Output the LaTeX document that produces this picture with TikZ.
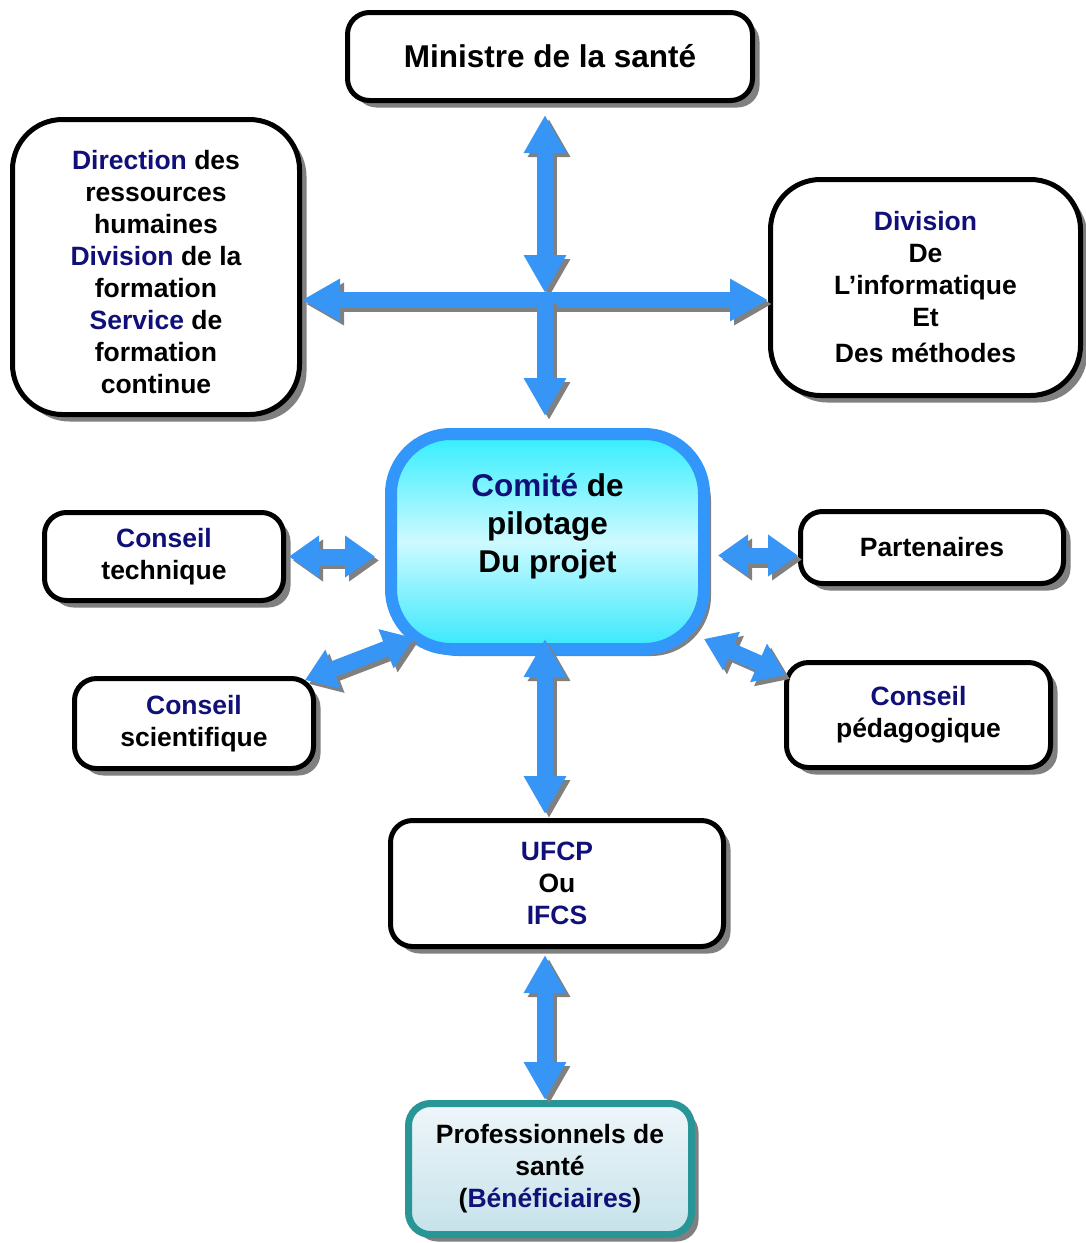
\documentclass[tikz,border=0pt]{standalone}
\usepackage{fontspec}
\setmainfont{Liberation Sans}
\usetikzlibrary{arrows.meta,shadows,calc}

\definecolor{navy}{RGB}{16,16,120}
\definecolor{linkblue}{RGB}{55,150,245}
\definecolor{shadegray}{RGB}{128,128,128}
\definecolor{comiteborder}{RGB}{51,150,250}
\definecolor{tealborder}{RGB}{40,150,150}

\newcommand\hl[1]{\textcolor{navy}{#1}}
% two-way block arrow with an offset grey shadow
\newcommand\linkarrow[3][]{%
  \draw[arrowshade,#1] #2 -- #3;
  \draw[arrowbody,#1] #2 -- #3;}

\tikzset{
  box/.style={draw=black, line width=5pt, rounded corners=22pt, fill=white,
    align=center, inner sep=0pt, font=\bfseries\fontsize{26.5}{32}\selectfont,
    drop shadow={shadow xshift=7pt, shadow yshift=-7pt, fill=shadegray, opacity=1}},
  arrowbody/.style={line width=16pt, draw=linkblue, <->,
    >={Triangle[width=40pt,length=38pt]}},
  arrowshade/.style={arrowbody, draw=shadegray,
    transform canvas={shift={(4pt,-4pt)}}},
  shorthead/.style={>={Triangle[width=40pt,length=30pt]}},
}

\begin{document}
\begin{tikzpicture}[x=1pt,y=-1pt]
\path[use as bounding box] (0,0) rectangle (1085,1243);

% boxes
\node[box, minimum width=405pt, minimum height=88pt,
  font=\bfseries\fontsize{31.5}{36}\selectfont] (min) at (550,56.5) {Ministre de la santé};

\node[box, rounded corners=50pt, minimum width=287pt, minimum height=295pt] (dir) at (156,267)
  {\mbox{}\\[-3pt]\hl{Direction} des\\ressources\\humaines\\\hl{Division} de la\\formation\\\hl{Service} de\\formation\\continue};

\node[box, rounded corners=50pt, minimum width=310pt, minimum height=216pt] (div) at (925.5,287.5)
  {\hl{Division}\\De\\L’informatique\\Et\\[4pt]Des méthodes};

\node[box, draw=comiteborder, line width=12pt, rounded corners=60pt,
  minimum width=313pt, minimum height=215pt,
  top color={rgb,255:red,50;green,238;blue,255},
  bottom color={rgb,255:red,55;green,232;blue,252},
  middle color={rgb,255:red,205;green,250;blue,255},
  font=\bfseries\fontsize{31.5}{38}\selectfont] (com) at (547.5,541.5)
  {\hl{Comité} de\\pilotage\\Du projet\\\mbox{}};

\node[box, minimum width=239pt, minimum height=88pt] (tec) at (164,556.5)
  {\hl{Conseil}\\technique};

\node[box, minimum width=263pt, minimum height=72pt] (par) at (932,547.5)
  {Partenaires};

\node[box, minimum width=239pt, minimum height=90pt] (sci) at (194,723.5)
  {\hl{Conseil}\\scientifique};

\node[box, minimum width=264pt, minimum height=105pt] (ped) at (918.5,715)
  {\hl{Conseil}\\pédagogique};

\node[box, minimum width=333pt, minimum height=126pt] (ufcp) at (557,883.5)
  {\hl{UFCP}\\Ou\\\hl{IFCS}};

\node[box, draw=tealborder, line width=7pt, minimum width=283pt, minimum height=131pt,
  top color={rgb,255:red,238;green,246;blue,250},
  bottom color={rgb,255:red,198;green,226;blue,234}] (pro) at (550,1169)
  {Professionnels de\\santé\\(\hl{Bénéficiaires})};

% connectors
\coordinate (hub) at (545,300);

\linkarrow{($(min.south -| hub)+(0,12)$)}{($(hub)+(0,-7)$)}
\linkarrow{(dir.east |- hub)}{(div.west |- hub)}
\linkarrow[->]{(hub)}{($(com.north -| hub)+(0,-12)$)}

\linkarrow[shorthead]{($(tec.east)+(3,0)$)}{($(com.west |- tec.east)+(-10,0)$)}
\linkarrow[shorthead]{($(com.east)+(8,14)$)}{($(par.west)+(0,8)$)}
\linkarrow[shorthead]{($(sci.north east)+(-11,4)$)}{($(com.south west)+(29,-17)$)}
\linkarrow[shorthead]{($(com.south east)+(-6,-16)$)}{($(ped.north west)+(2,15)$)}

\linkarrow{($(com.south -| hub)+(0,-16)$)}{($(ufcp.north -| hub)+(0,-4)$)}
\linkarrow{($(ufcp.south -| hub)+(0,6)$)}{(pro.north -| hub)}
\end{tikzpicture}
\end{document}
